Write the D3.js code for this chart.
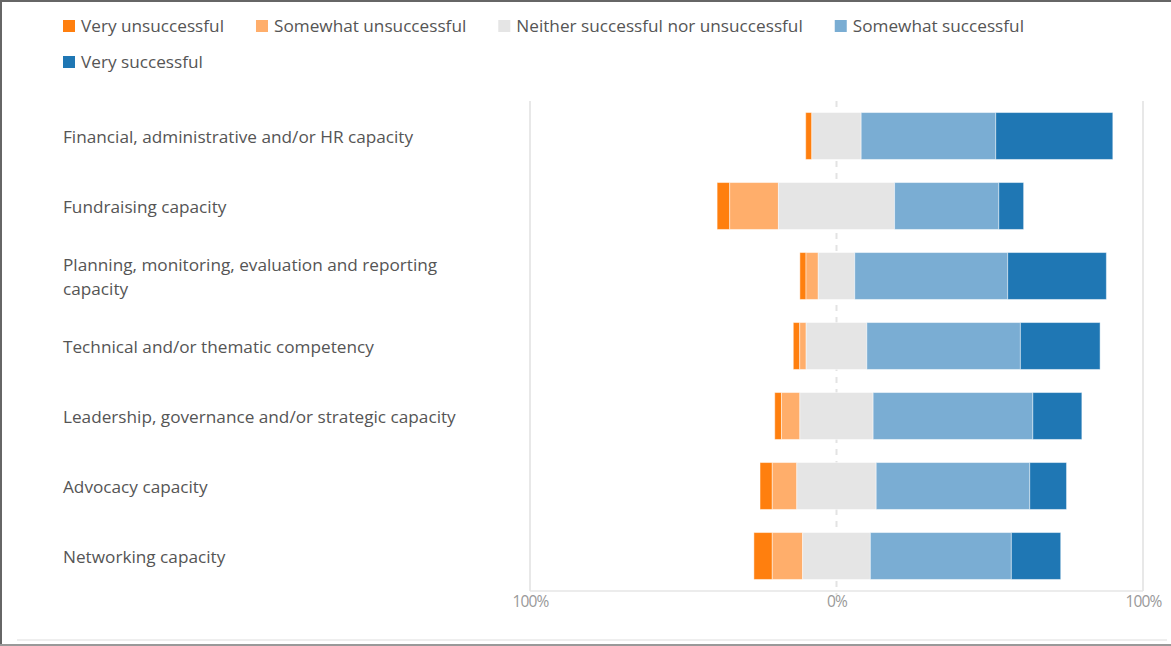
<!DOCTYPE html>
<html><head><meta charset="utf-8">
<script src="https://cdn.jsdelivr.net/npm/d3@7"></script>
<style>
html,body{margin:0;padding:0;background:#fff;}
svg{display:block;font-family:"Open Sans","Noto Sans",sans-serif;}
</style></head><body>
<svg id="chart" width="1171" height="646"></svg>
<script>
const categories = [
  "Financial, administrative and/or HR capacity",
  "Fundraising capacity",
  "Planning, monitoring, evaluation and reporting capacity",
  "Technical and/or thematic competency",
  "Leadership, governance and/or strategic capacity",
  "Advocacy capacity",
  "Networking capacity"
];
const seriesNames = ["Very unsuccessful","Somewhat unsuccessful","Neither successful nor unsuccessful","Somewhat successful","Very successful"];
const veryUnsuccessful     = [2.0, 4.1, 2.0, 2.1, 2.2, 4.0, 6.0];
const somewhatUnsuccessful = [0.0, 15.9, 4.0, 2.1, 6.0, 8.0, 9.9];
const neither              = [16.1, 37.9, 11.9, 19.8, 23.9, 25.9, 22.1];
const somewhatSuccessful   = [43.9, 34.0, 49.9, 50.1, 52.1, 50.1, 46.0];
const verySuccessful       = [38.2, 8.1, 32.2, 26.0, 16.0, 12.0, 16.1];
const tickValues = [-100, 0, 100];
const tickLabels = ["100%", "0%", "100%"];
const colors = ["#ff7f0e","#ffae6b","#e5e5e5","#7aadd3","#1f77b4"];

const seriesValues = [veryUnsuccessful, somewhatUnsuccessful, neither, somewhatSuccessful, verySuccessful];

const svg = d3.select("#chart");
const W = 1171, H = 646;
const FS = 17.2;

// frame
svg.append("line").attr("x1",0).attr("x2",W).attr("y1",1).attr("y2",1).attr("stroke","#666").attr("stroke-width",2);
svg.append("line").attr("x1",1).attr("x2",1).attr("y1",0).attr("y2",H).attr("stroke","#666").attr("stroke-width",2);
svg.append("line").attr("x1",0).attr("x2",W).attr("y1",645).attr("y2",645).attr("stroke","#999").attr("stroke-width",2);
svg.append("line").attr("x1",17).attr("x2",1167).attr("y1",640).attr("y2",640).attr("stroke","#eeeeee").attr("stroke-width",2);

const x = d3.scaleLinear().domain([-100, 100]).range([530, 1143]);
const y = d3.scaleBand().domain(categories).range([101, 591]).paddingInner(0.33).paddingOuter(0.165);

// grid lines at +-100
const grid = svg.append("g");
grid.selectAll("line.g").data(tickValues.filter(v => v !== 0)).join("line")
  .attr("x1", d => x(d)).attr("x2", d => x(d))
  .attr("y1", 101).attr("y2", 591)
  .attr("stroke", "#e8e8e8").attr("stroke-width", 2);
// zero dashed
grid.append("line").attr("x1", x(0)).attr("x2", x(0)).attr("y1", 101).attr("y2", 595)
  .attr("stroke", "#e3e3e3").attr("stroke-width", 2).attr("stroke-dasharray", "6,6");
// bottom axis line
grid.append("line").attr("x1", x(-100)).attr("x2", x(100)).attr("y1", 591).attr("y2", 591)
  .attr("stroke", "#e6e6e6").attr("stroke-width", 1.5);

// axis labels
const axis = d3.axisBottom(x).tickValues(tickValues).tickFormat((d, i) => tickLabels[i]).tickSize(0).tickPadding(0);
const ax = svg.append("g").attr("transform", "translate(0,592)").call(axis);
ax.select(".domain").remove();
ax.selectAll("text").attr("font-size", 15.5).attr("fill", "#999").attr("dy", "0.95em")
  .attr("font-family", '"Open Sans",sans-serif').style("letter-spacing", "-0.8px");

// bars
const rows = categories.map((c, i) => {
  let start = -(veryUnsuccessful[i] + somewhatUnsuccessful[i] + neither[i] / 2);
  return seriesValues.map((s, k) => {
    const seg = { cat: c, k: k, x0: start, x1: start + s[i] };
    start += s[i];
    return seg;
  });
}).flat().filter(d => d.x1 - d.x0 > 0);

svg.append("g").selectAll("rect").data(rows).join("rect")
  .attr("x", d => x(d.x0)).attr("width", d => x(d.x1) - x(d.x0))
  .attr("y", d => y(d.cat)).attr("height", y.bandwidth())
  .attr("fill", d => colors[d.k])
  .attr("stroke", "#ffffff").attr("stroke-opacity", 0.45).attr("stroke-width", 1);

// category labels with wrapping
const labG = svg.append("g");
categories.forEach(c => {
  const cy = y(c) + y.bandwidth() / 2 + 1;
  const t = labG.append("text").attr("x", 63).attr("font-size", FS).attr("fill", "#555");
  const words = c.split(" ");
  const lines = [];
  let line = [];
  const tmp = t.append("tspan");
  words.forEach(w => {
    line.push(w);
    tmp.text(line.join(" "));
    if (tmp.node().getComputedTextLength() > 420 && line.length > 1) {
      line.pop();
      lines.push(line.join(" "));
      line = [w];
    }
  });
  lines.push(line.join(" "));
  tmp.remove();
  const lh = 24;
  lines.forEach((l, j) => {
    t.append("tspan").attr("x", 63)
      .attr("y", cy + (j - (lines.length - 1) / 2) * lh)
      .attr("dy", "0.35em").text(l);
  });
});

// legend (flow layout)
const leg = svg.append("g");
let lx = 63, ly = 26;
seriesNames.forEach((n, k) => {
  const g = leg.append("g");
  const txt = g.append("text").attr("font-size", FS).attr("fill", "#555").attr("dy", "0.35em").text(n);
  const tw = txt.node().getComputedTextLength();
  if (lx + 18 + tw > 1100) { lx = 63; ly += 36; }
  g.append("rect").attr("x", lx).attr("y", ly - 6).attr("width", 12).attr("height", 12).attr("fill", colors[k]);
  txt.attr("x", lx + 18).attr("y", ly);
  lx += 18 + tw + 32;
});
</script>
</body></html>
